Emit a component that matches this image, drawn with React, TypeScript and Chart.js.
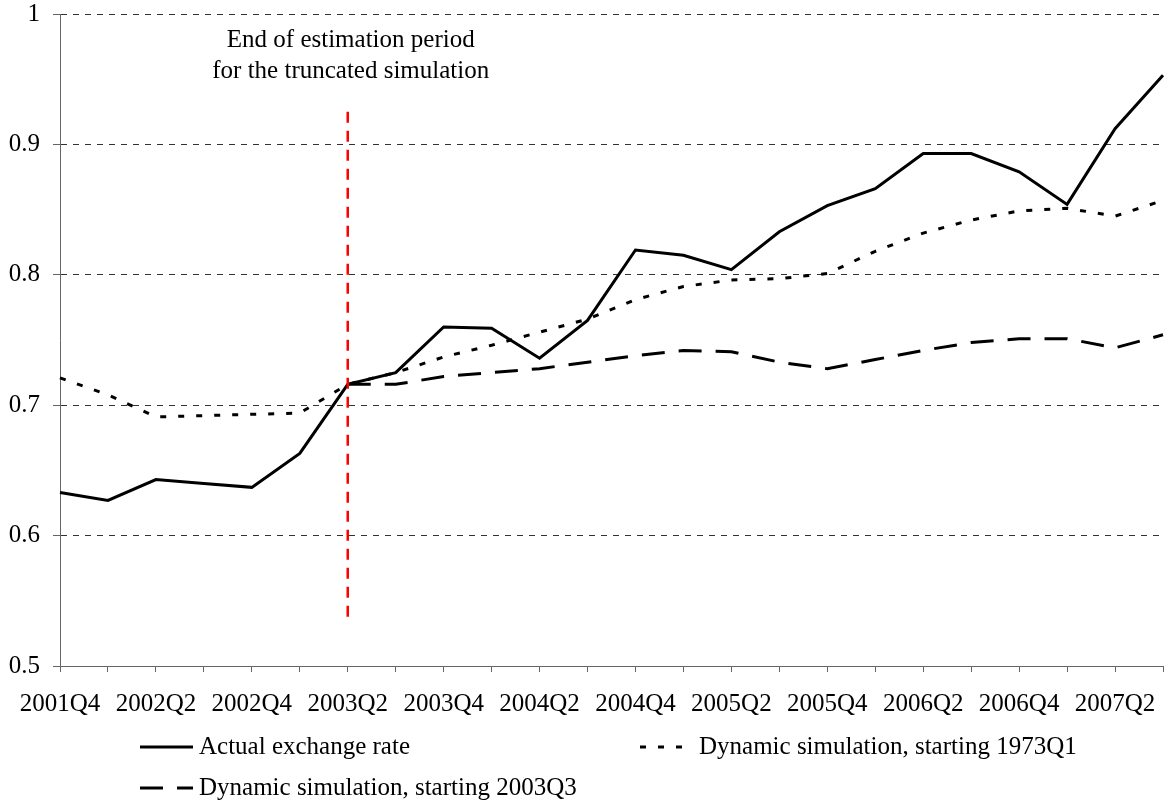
import { useEffect, useRef } from 'react';
import { Chart, registerables } from 'chart.js';

Chart.register(...registerables);

const quarters = [
  '2001Q4',
  '2002Q1', '2002Q2', '2002Q3', '2002Q4',
  '2003Q1', '2003Q2', '2003Q3', '2003Q4',
  '2004Q1', '2004Q2', '2004Q3', '2004Q4',
  '2005Q1', '2005Q2', '2005Q3', '2005Q4',
  '2006Q1', '2006Q2', '2006Q3', '2006Q4',
  '2007Q1', '2007Q2', '2007Q3',
];

const actualRate = [
  0.633, 0.627, 0.643, 0.640, 0.637, 0.663, 0.716, 0.725, 0.760, 0.759, 0.736, 0.765,
  0.819, 0.815, 0.804, 0.833, 0.853, 0.866, 0.893, 0.893, 0.879, 0.854, 0.912, 0.953,
];

const simFrom1973 = [
  0.721, 0.708, 0.691, 0.692, 0.693, 0.694, 0.716, 0.725, 0.737, 0.746, 0.756, 0.766,
  0.781, 0.791, 0.796, 0.797, 0.801, 0.818, 0.832, 0.842, 0.849, 0.851, 0.845, 0.857,
];

const simFrom2003 = [
  null, null, null, null, null, null, 0.716, 0.716, 0.722, 0.725, 0.728, 0.733,
  0.738, 0.742, 0.741, 0.733, 0.728, 0.735, 0.742, 0.748, 0.751, 0.751, 0.744, 0.754,
];

const markerQuarter = '2003Q2';
const markerTop = 0.925;
const markerBottom = 0.536;

const yTicks = [0.5, 0.6, 0.7, 0.8, 0.9, 1];

const annotationLines = ['End of estimation period', 'for the truncated simulation'];

const seriesNames = [
  'Actual exchange rate',
  'Dynamic simulation, starting 1973Q1',
  'Dynamic simulation, starting 2003Q3',
];

const FONT = '"Liberation Serif", "Times New Roman", serif';
const DOTTED = [6, 12];
const DASHED = [23, 14];

const annotationPlugin = {
  id: 'annotationText',
  afterDraw(chart: any) {
    const ctx = chart.ctx;
    const x = chart.scales.x.getPixelForValue(quarters.indexOf(markerQuarter)) + 3;
    const top = chart.chartArea.top;
    ctx.save();
    ctx.fillStyle = '#000';
    ctx.font = `25px ${FONT}`;
    ctx.textAlign = 'center';
    ctx.textBaseline = 'alphabetic';
    ctx.fillText(annotationLines[0], x, top + 33);
    ctx.fillText(annotationLines[1], x, top + 64);
    ctx.restore();
  },
};

const legendPlugin = {
  id: 'customLegend',
  afterDraw(chart: any) {
    const ctx = chart.ctx;
    const bottom = chart.chartArea.bottom;
    const items = [
      { label: seriesNames[0], dash: [] as number[], x: 140, y: bottom + 81 },
      { label: seriesNames[1], dash: DOTTED, x: 640, y: bottom + 81 },
      { label: seriesNames[2], dash: DASHED, x: 140, y: bottom + 122 },
    ];
    ctx.save();
    ctx.font = `25px ${FONT}`;
    ctx.textBaseline = 'middle';
    ctx.textAlign = 'left';
    for (const it of items) {
      ctx.beginPath();
      ctx.setLineDash(it.dash);
      ctx.lineWidth = 3;
      ctx.strokeStyle = '#000';
      ctx.moveTo(it.x, it.y);
      ctx.lineTo(it.x + 53, it.y);
      ctx.stroke();
      ctx.setLineDash([]);
      ctx.fillStyle = '#000';
      ctx.fillText(it.label, it.x + 59, it.y);
    }
    ctx.restore();
  },
};

export default function App() {
  const canvasRef = useRef<HTMLCanvasElement | null>(null);

  useEffect(() => {
    document.body.style.margin = '0';
    const canvas = canvasRef.current;
    if (!canvas) return;
    const chart = new Chart(canvas, {
      type: 'line',
      data: {
        labels: quarters,
        datasets: [
          {
            label: 'marker',
            data: [
              { x: markerQuarter, y: markerTop },
              { x: markerQuarter, y: markerBottom },
            ] as any,
            borderColor: '#ff0000',
            borderWidth: 2.5,
            borderDash: [11, 8],
            pointRadius: 0,
            fill: false,
            order: 0,
          },
          {
            label: seriesNames[0],
            data: actualRate,
            borderColor: '#000',
            borderWidth: 3,
            pointRadius: 0,
            tension: 0,
            fill: false,
            order: 1,
          },
          {
            label: seriesNames[1],
            data: simFrom1973,
            borderColor: '#000',
            borderWidth: 3,
            borderDash: DOTTED,
            pointRadius: 0,
            tension: 0,
            fill: false,
            order: 2,
          },
          {
            label: seriesNames[2],
            data: simFrom2003 as any,
            borderColor: '#000',
            borderWidth: 3,
            borderDash: DASHED,
            pointRadius: 0,
            tension: 0,
            fill: false,
            order: 3,
          },
        ],
      },
      options: {
        responsive: false,
        animation: false,
        devicePixelRatio: 1,
        layout: { padding: { top: 14, right: 3, left: 0, bottom: 0 } },
        plugins: {
          legend: { display: false },
          tooltip: { enabled: false },
        },
        scales: {
          x: {
            type: 'category',
            offset: false,
            grid: {
              offset: false,
              drawOnChartArea: false,
              drawTicks: true,
              tickLength: 6,
              color: '#666',
              tickColor: '#666',
            },
            border: { display: true, color: '#666', width: 1 },
            ticks: {
              autoSkip: false,
              maxRotation: 0,
              minRotation: 0,
              padding: 17,
              color: '#000',
              font: { family: FONT, size: 25 },
              callback: (_v: any, i: number) => (i % 2 === 0 ? quarters[i] : ''),
            },
            afterFit: (s: any) => {
              s.height = 136;
              s.paddingLeft = 0;
              s.paddingRight = 0;
            },
          },
          y: {
            min: yTicks[0],
            max: yTicks[yTicks.length - 1],
            afterBuildTicks: (s: any) => {
              s.ticks = yTicks.map((v) => ({ value: v }));
            },
            grid: {
              drawOnChartArea: true,
              drawTicks: true,
              tickLength: 7,
              color: '#333',
              tickColor: '#666',
              tickBorderDash: [],
            },
            border: { display: true, color: '#666', width: 1, dash: [6, 6] },
            ticks: {
              padding: 13,
              color: '#000',
              font: { family: FONT, size: 25 },
              callback: (v: any) => String(Number(Number(v).toFixed(1))),
            },
            afterFit: (s: any) => {
              s.width = 60;
              s.paddingTop = 0;
              s.paddingBottom = 0;
            },
          },
        },
      } as any,
      plugins: [annotationPlugin, legendPlugin],
    });
    return () => chart.destroy();
  }, []);

  return (
    <div style={{ width: 1166, height: 802, background: '#fff' }}>
      <canvas ref={canvasRef} width={1166} height={802} style={{ display: 'block', width: 1166, height: 802 }} />
    </div>
  );
}
